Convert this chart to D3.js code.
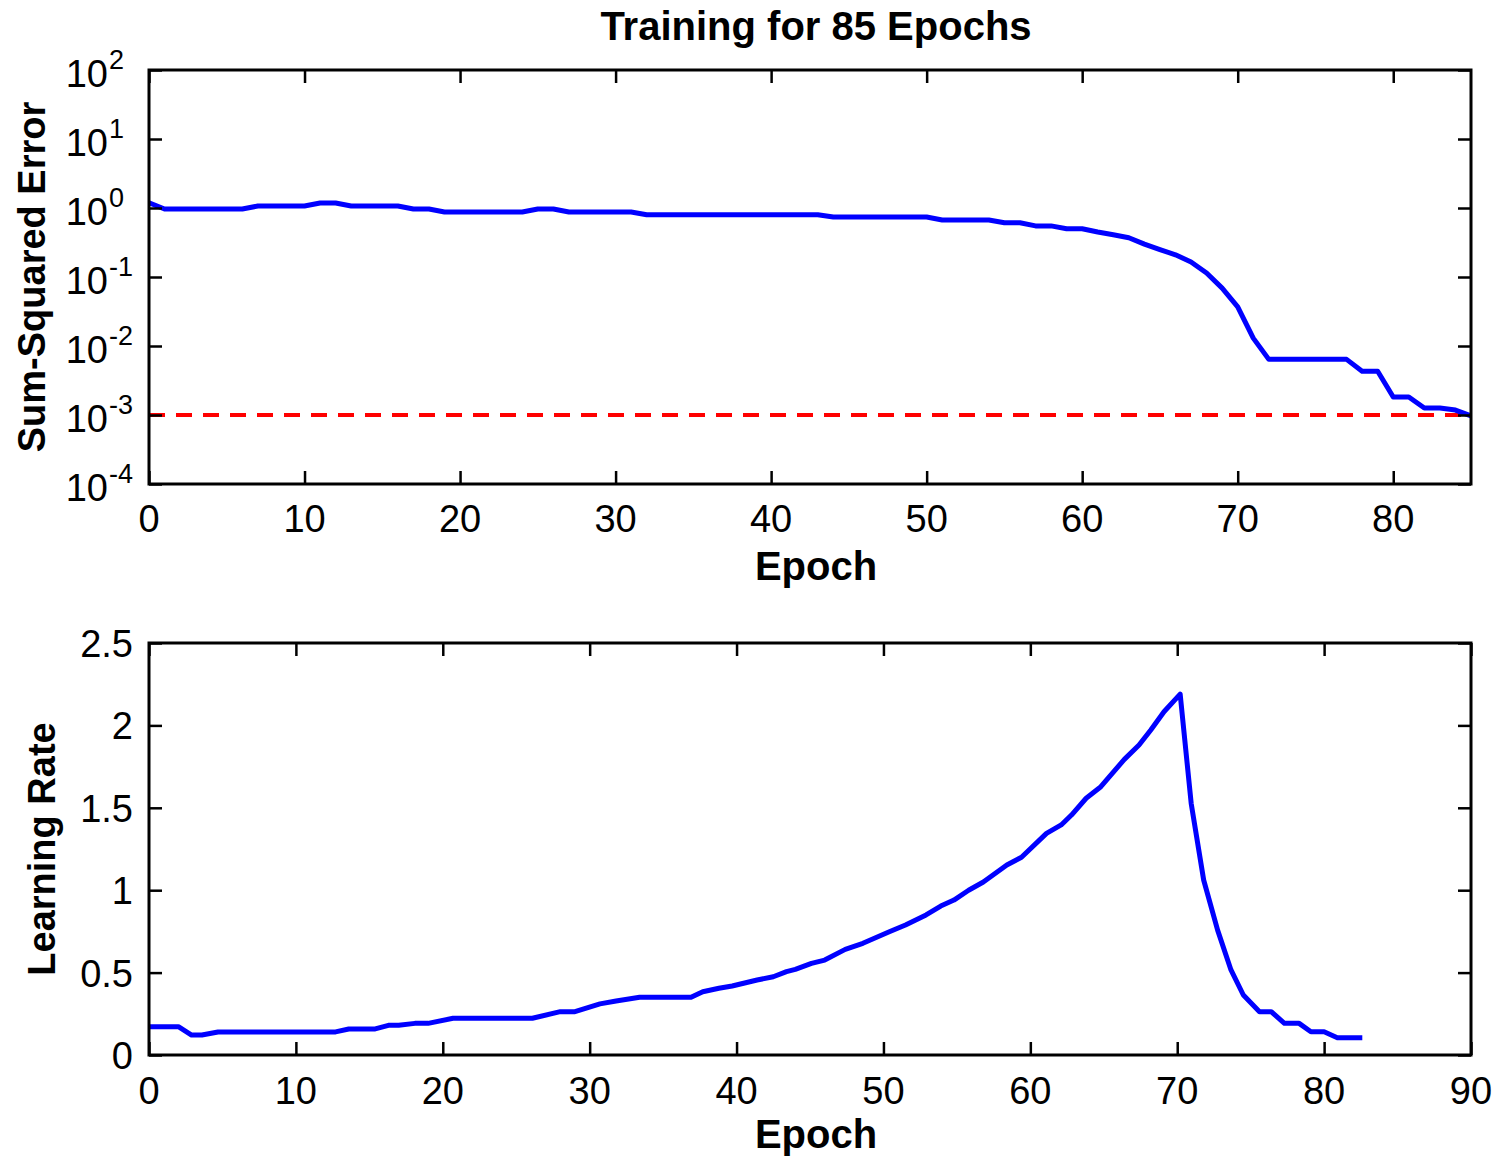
<!DOCTYPE html>
<html>
<head>
<meta charset="utf-8">
<script src="https://cdn.jsdelivr.net/npm/d3@7"></script>
<style>
  html, body { margin: 0; padding: 0; background: #fff; }
  svg { display: block; font-family: "Liberation Sans", Arial, sans-serif; }
</style>
</head>
<body>
<svg id="chart" width="1496" height="1158"></svg>
<script>
// Sum-squared error per epoch (epochs 0..85)
const sseValues = [
  1.19, 0.967, 0.967, 0.967, 0.967, 0.967, 0.967, 1.07, 1.07, 1.07,
  1.07, 1.18, 1.18, 1.07, 1.07, 1.07, 1.07, 0.967, 0.967, 0.875,
  0.875, 0.875, 0.875, 0.875, 0.875, 0.967, 0.967, 0.875, 0.875, 0.875,
  0.875, 0.875, 0.80, 0.80, 0.80, 0.80, 0.80, 0.80, 0.80, 0.80,
  0.80, 0.80, 0.80, 0.80, 0.74, 0.74, 0.74, 0.74, 0.74, 0.74,
  0.74, 0.67, 0.67, 0.67, 0.67, 0.61, 0.61, 0.55, 0.55, 0.50,
  0.50, 0.45, 0.41, 0.37, 0.30, 0.25, 0.21, 0.165, 0.114, 0.069,
  0.037, 0.013, 0.0064, 0.0064, 0.0064, 0.0064, 0.0064, 0.0064, 0.0043, 0.0043,
  0.00182, 0.00182, 0.00126, 0.00126, 0.00118, 0.00097
];
const errorGoal = 1e-3;
const sseTickExponents = [2, 1, 0, -1, -2, -3, -4];
const sseEpochTicks = [0, 10, 20, 30, 40, 50, 60, 70, 80];

// Learning rate trace (epoch, rate)
const lrEpoch = [
  0, 2, 2.9, 3.6, 4.7, 12.7, 13.6, 15.4, 16.3, 17.0,
  18.1, 19.0, 20.7, 26.1, 28.0, 29.0, 30.7, 31.8, 33.4, 36.9,
  37.7, 38.8, 39.7, 41.4, 42.5, 43.4, 44.0, 45.1, 46.0, 47.4,
  48.6, 50.4, 51.5, 52.9, 53.9, 54.8, 55.8, 56.8, 58.4, 59.4,
  61.1, 62.1, 62.8, 63.8, 64.8, 66.4, 67.4, 68.2, 69.1, 70.2,
  70.95, 71.8, 72.75, 73.66, 74.5, 75.6, 76.4, 77.3, 78.3, 79.1,
  80.0, 80.9, 82.6
];
const lrValue = [
  0.172, 0.172, 0.121, 0.121, 0.14, 0.14, 0.158, 0.158, 0.18, 0.18,
  0.192, 0.192, 0.223, 0.223, 0.263, 0.263, 0.31, 0.328, 0.35, 0.35,
  0.384, 0.405, 0.419, 0.455, 0.475, 0.506, 0.52, 0.556, 0.576, 0.641,
  0.678, 0.748, 0.789, 0.85, 0.904, 0.94, 1.0, 1.05, 1.153, 1.20,
  1.345, 1.396, 1.456, 1.558, 1.628, 1.794, 1.881, 1.972, 2.083, 2.19,
  1.527, 1.062, 0.758, 0.516, 0.364, 0.263, 0.263, 0.192, 0.192, 0.141,
  0.141, 0.105, 0.105
];
const lrTicks = [0, 0.5, 1, 1.5, 2, 2.5];
const lrEpochTicks = [0, 10, 20, 30, 40, 50, 60, 70, 80, 90];

const svg = d3.select("#chart");
const TICK = 13;
const FS = 38;      // tick labels and y-axis titles
const FS_BIG = 40;  // plot title and x-axis titles

function frame(g, x0, x1, y0, y1) {
  g.append("rect")
    .attr("x", x0).attr("y", y0)
    .attr("width", x1 - x0).attr("height", y1 - y0)
    .attr("fill", "none").attr("stroke", "#000").attr("stroke-width", 3);
}

// Ticks drawn inward on all four sides of a box
function boxTicks(g, xScale, xTicks, yScale, yTicks, x0, x1, y0, y1) {
  g.append("g").attr("transform", `translate(0,${y1})`)
    .call(d3.axisBottom(xScale).tickValues(xTicks).tickSizeInner(-TICK).tickSizeOuter(0).tickFormat(""));
  g.append("g").attr("transform", `translate(0,${y0})`)
    .call(d3.axisTop(xScale).tickValues(xTicks).tickSizeInner(-TICK).tickSizeOuter(0).tickFormat(""));
  g.append("g").attr("transform", `translate(${x0},0)`)
    .call(d3.axisLeft(yScale).tickValues(yTicks).tickSizeInner(-TICK).tickSizeOuter(0).tickFormat(""));
  g.append("g").attr("transform", `translate(${x1},0)`)
    .call(d3.axisRight(yScale).tickValues(yTicks).tickSizeInner(-TICK).tickSizeOuter(0).tickFormat(""));
  g.selectAll(".domain").remove();
  g.selectAll(".tick line").attr("stroke", "#000").attr("stroke-width", 2.5);
}

// ---------- Top panel: sum-squared error (log scale) ----------
{
  const L = 149, R = 1471, T = 70, B = 484;
  const x = d3.scaleLinear().domain([0, 85]).range([L, R]);
  const y = d3.scaleLog().domain([1e-4, 1e2]).range([B, T]);
  const g = svg.append("g");

  g.append("line")
    .attr("x1", x(0)).attr("x2", x(85))
    .attr("y1", y(errorGoal)).attr("y2", y(errorGoal))
    .attr("stroke", "#ff0000").attr("stroke-width", 4)
    .attr("stroke-dasharray", "16,11");

  const line = d3.line().x((d, i) => x(i)).y(d => y(d));
  g.append("path").datum(sseValues)
    .attr("d", line)
    .attr("fill", "none").attr("stroke", "#0000ff")
    .attr("stroke-width", 5).attr("stroke-linejoin", "round");

  boxTicks(g, x, sseEpochTicks, y, sseTickExponents.map(e => Math.pow(10, e)), L, R, T, B);
  frame(g, L, R, T, B);

  // y tick labels: 10 with superscript exponent
  sseTickExponents.forEach(e => {
    const ty = y(Math.pow(10, e));
    g.append("text").attr("x", 108).attr("y", ty + 17)
      .attr("text-anchor", "end").attr("font-size", FS).text("10");
    g.append("text").attr("x", 109).attr("y", ty - 1)
      .attr("font-size", 27).text(String(e));
  });

  g.selectAll(null).data(sseEpochTicks).enter().append("text")
    .attr("x", d => x(d)).attr("y", B + 48)
    .attr("text-anchor", "middle").attr("font-size", FS).text(d => d);

  g.append("text").attr("x", 816).attr("y", 580)
    .attr("text-anchor", "middle").attr("font-size", FS_BIG).attr("font-weight", "bold").text("Epoch");

  g.append("text").attr("transform", `translate(45,${(T + B) / 2}) rotate(-90)`)
    .attr("text-anchor", "middle").attr("font-size", FS).attr("font-weight", "bold").text("Sum-Squared Error");

  g.append("text").attr("x", 816).attr("y", 40)
    .attr("text-anchor", "middle").attr("font-size", FS_BIG).attr("font-weight", "bold").text("Training for 85 Epochs");
}

// ---------- Bottom panel: learning rate ----------
{
  const L = 149, R = 1471, T = 643, B = 1055;
  const x = d3.scaleLinear().domain([0, 90]).range([L, R]);
  const y = d3.scaleLinear().domain([0, 2.5]).range([B, T]);
  const g = svg.append("g");

  const pts = lrEpoch.map((e, i) => [e, lrValue[i]]);
  const line = d3.line().x(d => x(d[0])).y(d => y(d[1]));
  g.append("path").datum(pts)
    .attr("d", line)
    .attr("fill", "none").attr("stroke", "#0000ff")
    .attr("stroke-width", 5).attr("stroke-linejoin", "round");

  boxTicks(g, x, lrEpochTicks, y, lrTicks, L, R, T, B);
  frame(g, L, R, T, B);

  g.selectAll(null).data(lrTicks).enter().append("text")
    .attr("x", 133).attr("y", d => y(d) + 14)
    .attr("text-anchor", "end").attr("font-size", FS).text(d => d);

  g.selectAll(null).data(lrEpochTicks).enter().append("text")
    .attr("x", d => x(d)).attr("y", B + 49)
    .attr("text-anchor", "middle").attr("font-size", FS).text(d => d);

  g.append("text").attr("x", 816).attr("y", 1148)
    .attr("text-anchor", "middle").attr("font-size", FS_BIG).attr("font-weight", "bold").text("Epoch");

  g.append("text").attr("transform", `translate(55,${(T + B) / 2}) rotate(-90)`)
    .attr("text-anchor", "middle").attr("font-size", FS).attr("font-weight", "bold").text("Learning Rate");
}
</script>
</body>
</html>
